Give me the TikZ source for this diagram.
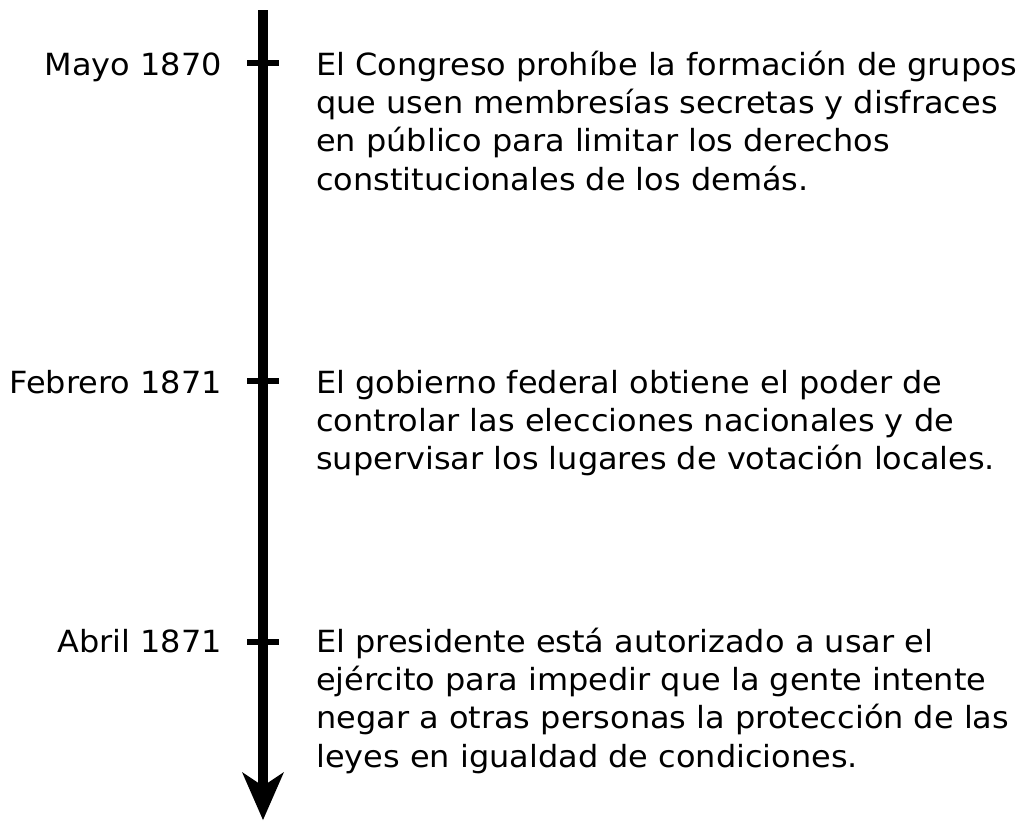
\documentclass[tikz,border=0pt]{standalone}
\usepackage{fontspec}
\setmainfont{DejaVu Sans}[FakeStretch=1.047]
\begin{document}
\begin{tikzpicture}[x=0.75pt,y=-0.75pt,
  datelabel/.style={anchor=base east,inner sep=0pt,font=\fontsize{22.9}{28.7}\selectfont},
  eventtext/.style={anchor=north west,inner sep=0pt,align=left,font=\fontsize{22.9}{28.7}\selectfont},
  tickline/.style={line width=3.8pt},
  axisline/.style={line width=8.2pt}]
\useasboundingbox (0,0) rectangle (1024,821);
% axis
\coordinate (top) at (263,10);
\coordinate (shaftend) at (263,786);
\draw[axisline] (top) -- (shaftend);
\fill (263,820) -- (242,772) -- (263,786) -- (284,772) -- cycle;
% ticks
\foreach \n/\y in {a/63,b/381,c/642}{
  \coordinate (t\n l) at (247,\y);
  \coordinate (t\n r) at (279,\y);
  \draw[tickline] (t\n l) -- (t\n r);
}
% labels
\node[datelabel] (d1) at (222,75) {Mayo 1870};
\node[datelabel] (d2) at (222,393) {Febrero 1871};
\node[datelabel] (d3) at (222,652) {Abril 1871};
% events
\node[eventtext] (e1) at (316,48.2) {\strut El Congreso prohíbe la formación de grupos\\
que usen membresías secretas y disfraces\\
en público para limitar los derechos\\
constitucionales de los demás.};
\node[eventtext] (e2) at (316,366.2) {\strut El gobierno federal obtiene el poder de\\
controlar las elecciones nacionales y de\\
supervisar los lugares de votación locales.};
\node[eventtext] (e3) at (316,625.2) {\strut El presidente está autorizado a usar el\\
ejército para impedir que la gente intente\\
negar a otras personas la protección de las\\
leyes en igualdad de condiciones.};
\end{tikzpicture}
\end{document}
